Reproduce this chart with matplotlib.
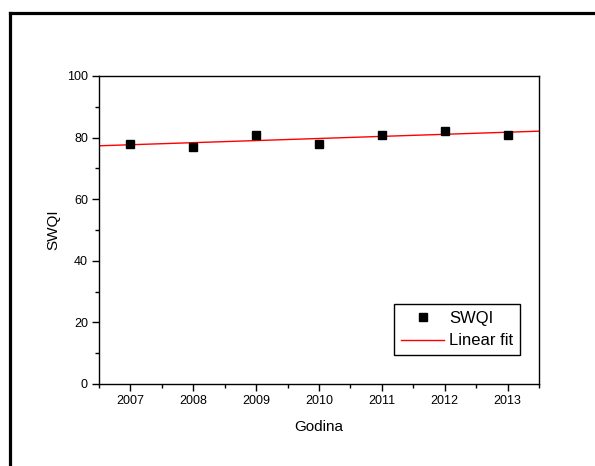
import numpy as np
import matplotlib
matplotlib.use("Agg")
import matplotlib.pyplot as plt
from matplotlib.lines import Line2D
from matplotlib.ticker import MultipleLocator

years = [2007, 2008, 2009, 2010, 2011, 2012, 2013]
swqi = [78, 77, 81, 78, 81, 82, 81]
year_labels = ["2007", "2008", "2009", "2010", "2011", "2012", "2013"]

plt.rcParams['font.family'] = ['Liberation Sans', 'DejaVu Sans']

W, H = 595, 466
fig = plt.figure(figsize=(W / 100, H / 100), dpi=100)
ax = fig.add_axes([99 / W, (H - 384) / H, 440 / W, 308 / H])

coef = np.polyfit(years, swqi, 1)
xf = np.array([2006.5, 2013.5])
ax.plot(xf, np.polyval(coef, xf), color='red', lw=1.0, label='Linear fit', zorder=2)
ax.plot(years, swqi, ls='none', marker='s', ms=5.2, color='black', label='SWQI', zorder=3)

ax.set_xlim(2006.5, 2013.5)
ax.set_ylim(0, 100)
ax.set_xticks(years)
ax.set_xticklabels(year_labels)
ax.xaxis.set_minor_locator(MultipleLocator(0.5))
ax.yaxis.set_major_locator(MultipleLocator(20))
ax.yaxis.set_minor_locator(MultipleLocator(10))
ax.tick_params(which='major', direction='out', length=5, width=1, labelsize=9, pad=3, top=False, right=False)
ax.tick_params(which='minor', direction='out', length=3, width=1, top=False, right=False)
for s in ax.spines.values():
    s.set_linewidth(1.0)
    s.set_color('black')

ax.set_xlabel('Godina', fontsize=11, labelpad=9)
ax.set_ylabel('SWQI', fontsize=11, labelpad=5)

handles, labels = ax.get_legend_handles_labels()
leg = ax.legend(handles[::-1], labels[::-1], loc='lower right',
                bbox_to_anchor=(1 - 19 / 440, (384 - 355) / 308),
                fontsize=12, frameon=True, fancybox=False, framealpha=1,
                edgecolor='black', handlelength=2.6, handletextpad=0.3,
                borderpad=0.4, labelspacing=0.45, borderaxespad=0, markerscale=1.0)
leg.get_frame().set_linewidth(1.0)

# outer frame lines (top and left)
fig.add_artist(Line2D([9.5 / W, 1.0], [1 - 12.5 / H, 1 - 12.5 / H], transform=fig.transFigure,
                      color='black', lw=2.3, solid_capstyle='projecting'))
fig.add_artist(Line2D([9.5 / W, 9.5 / W], [0.0, 1 - 12.5 / H], transform=fig.transFigure,
                      color='black', lw=2.3, solid_capstyle='projecting'))

fig.savefig('out.png', dpi=100)
